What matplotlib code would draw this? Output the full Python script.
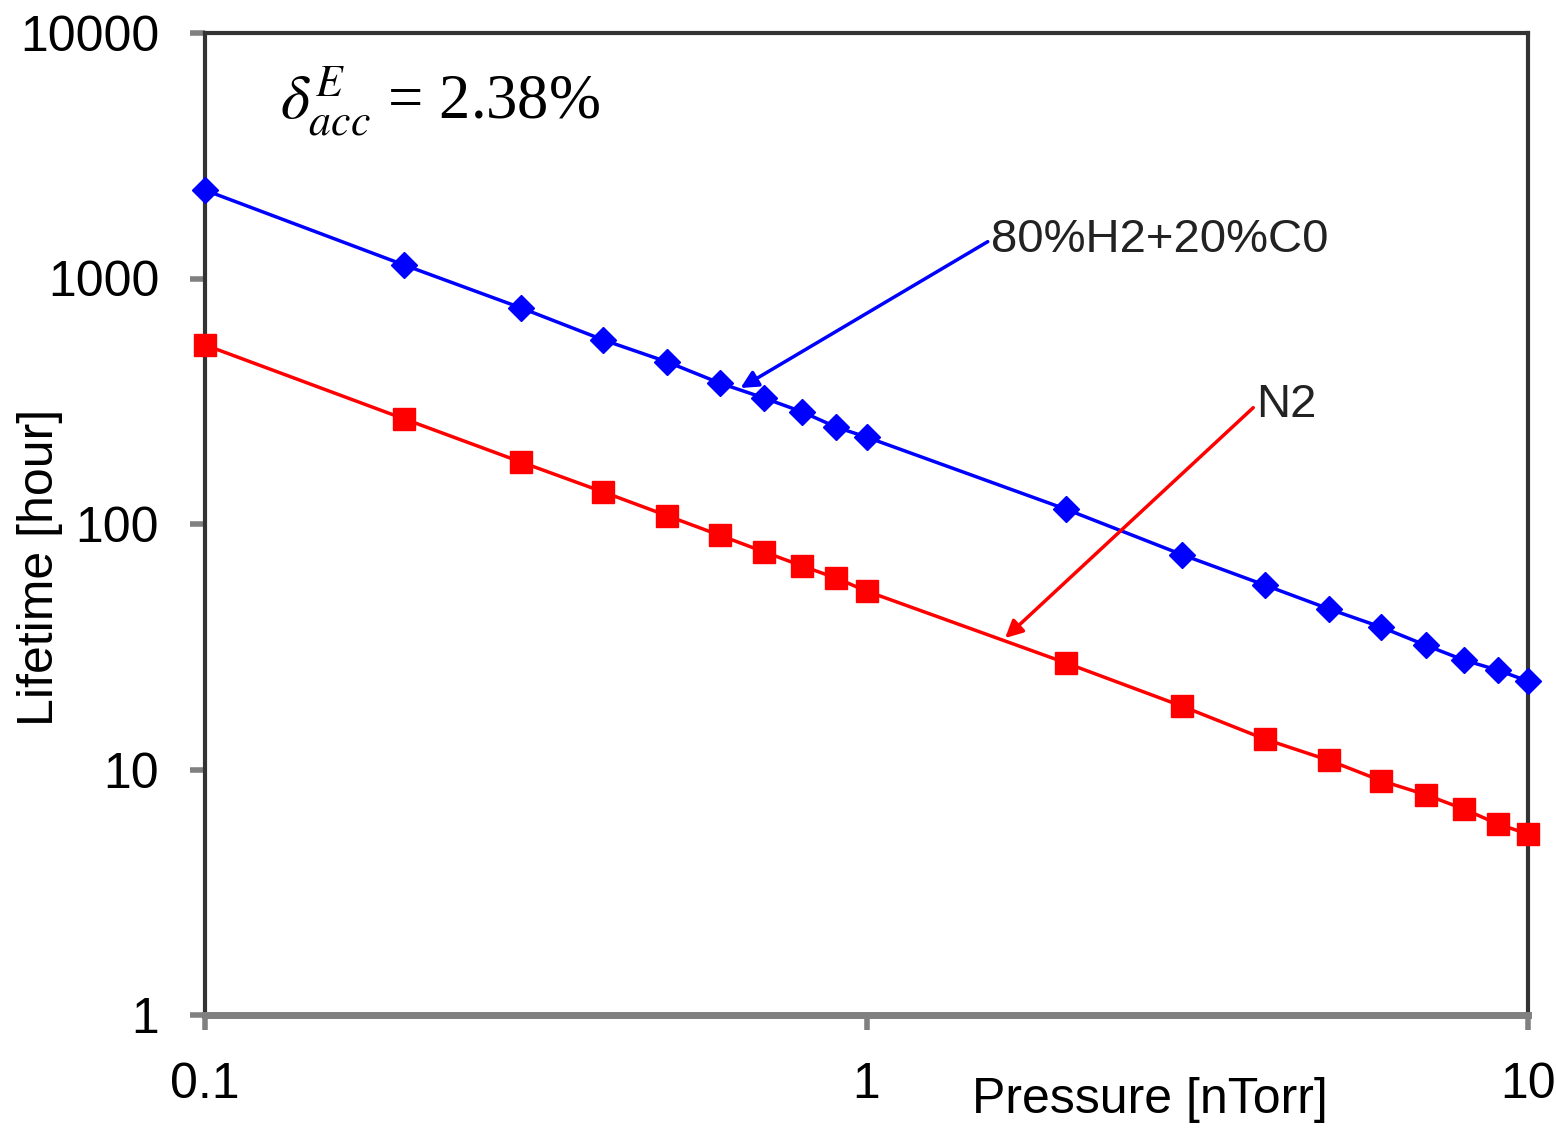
import numpy as np
import matplotlib
matplotlib.use("Agg")
import matplotlib.pyplot as plt

plt.rcParams['font.family'] = ['Liberation Sans', 'DejaVu Sans']
plt.rcParams['mathtext.fontset'] = 'stix'

# data
pressure = [0.1, 0.2, 0.3, 0.4, 0.5, 0.6, 0.7, 0.8, 0.9, 1,
            2, 3, 4, 5, 6, 7, 8, 9, 10]
life_h2co = [2290, 1135, 760, 562, 457, 375, 326, 286, 248, 226,
             115, 75, 56.4, 45.1, 38.0, 32.1, 27.9, 25.4, 22.9]
life_n2 = [536, 268, 179, 135, 108, 90, 77, 67.4, 60.2, 53.3,
           27.2, 18.1, 13.3, 10.9, 9.0, 7.9, 6.9, 6.0, 5.46]
xticks = [0.1, 1, 10]
xticklabels = ['0.1', '1', '10']
yticks = [1, 10, 100, 1000, 10000]
yticklabels = ['1', '10', '100', '1000', '10000']

BLUE = '#0000ff'
RED = '#ff0000'
GRAY = '#808080'
DARK = '#333333'

fig = plt.figure(figsize=(15.56, 11.31), dpi=100)
ax = fig.add_axes([205 / 1556, 116 / 1131, 1323 / 1556, 982 / 1131])

ax.plot(pressure, life_h2co, '-', color=BLUE, lw=2.5, marker='D',
        ms=13, mfc=BLUE, mec=BLUE, clip_on=False, zorder=3)
ax.plot(pressure, life_n2, '-', color=RED, lw=2.5, marker='s',
        ms=16, mfc=RED, mec=RED, clip_on=False, zorder=3)

ax.set_xscale('log'); ax.set_yscale('log')
ax.set_xlim(0.1, 10); ax.set_ylim(1, 10000)
ax.set_xticks(xticks); ax.set_xticklabels(xticklabels)
ax.set_yticks(yticks); ax.set_yticklabels(yticklabels)
ax.minorticks_off()
ax.tick_params(axis='both', which='major', direction='out', length=11,
               width=4, color=GRAY, labelsize=36, labelcolor='black')
ax.tick_params(axis='x', pad=23)
ax.tick_params(axis='y', pad=22)

for side in ['left', 'top', 'right']:
    ax.spines[side].set_color(DARK)
    ax.spines[side].set_linewidth(3)
ax.spines['bottom'].set_color(GRAY)
ax.spines['bottom'].set_linewidth(5)

ax.set_xlabel('Pressure [nTorr]', fontsize=36, va='center')
ax.xaxis.set_label_coords(0.714, -0.087)
ax.set_ylabel('Lifetime [hour]', fontsize=36, va='center')
ax.yaxis.set_label_coords(-0.125, 0.456)

ax.text(0.057, 0.968, r'$\delta^{E}_{acc}$ = 2.38%', family='Liberation Serif',
        transform=ax.transAxes, fontsize=45, va='top', ha='left')

ax.annotate('80%H2+20%C0', xy=(0.645, 358), xytext=(1.54, 1435),
            fontsize=34, va='center', ha='left', color='#222222',
            arrowprops=dict(arrowstyle='-|>', color=BLUE, lw=2.5,
                            mutation_scale=26, shrinkA=0, shrinkB=0,
                            relpos=(0, 0.5)))
ax.annotate('N2', xy=(1.62, 34.3), xytext=(3.88, 305),
            fontsize=34, va='center', ha='left', color='#222222',
            arrowprops=dict(arrowstyle='-|>', color=RED, lw=2.5,
                            mutation_scale=26, shrinkA=0, shrinkB=0,
                            relpos=(0, 0.5)))

fig.savefig('out.png', dpi=100)
